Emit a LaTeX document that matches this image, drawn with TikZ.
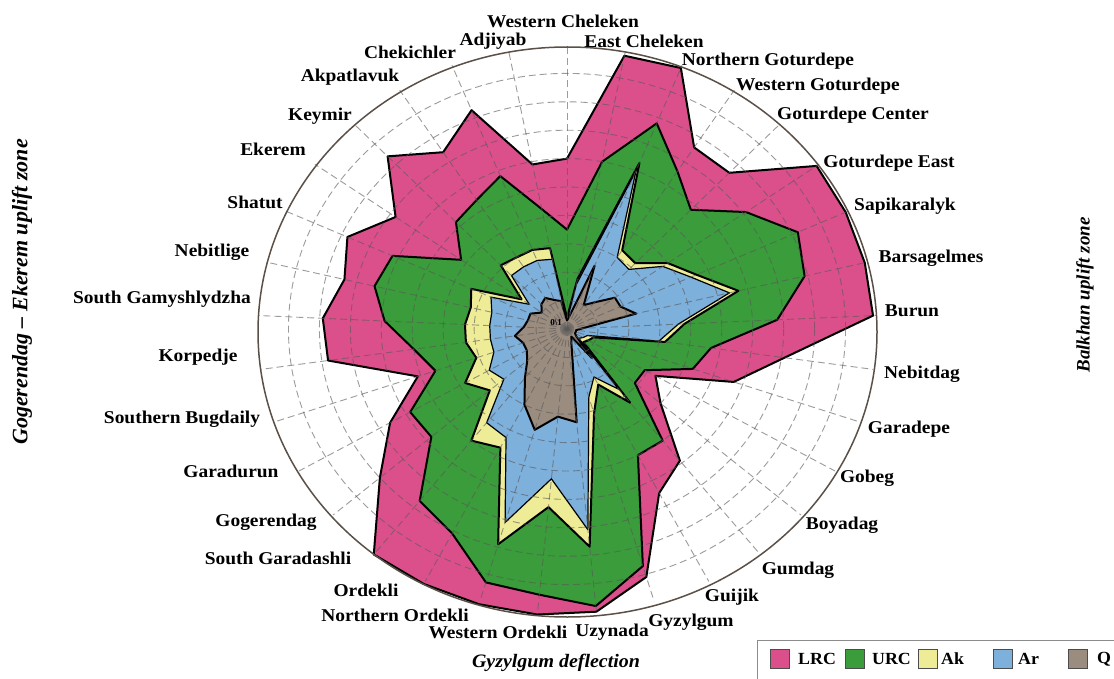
\documentclass[tikz,border=0pt]{standalone}
\usepackage{fontspec}
\setmainfont{Liberation Serif}
\begin{document}
\begin{tikzpicture}[x=1pt,y=-1pt,
  lab/.style={font=\fontsize{18}{20}\selectfont\bfseries, xscale=1.08, inner sep=0pt},
  side/.style={font=\fontsize{19}{22}\selectfont\bfseries\itshape, inner sep=0pt},
  poly/.style={draw=black, line width=2pt, line join=round},
  gridline/.style={draw=black!65, line width=0.9pt, dash pattern=on 7pt off 4pt, opacity=0.6},
  legbox/.style={draw=black!70, line width=0.6pt, minimum width=19pt, minimum height=19pt, inner sep=0pt},
  legtxt/.style={font=\fontsize{17}{20}\selectfont\bfseries, xscale=1.05, inner sep=0pt, anchor=west}]
\definecolor{cLRC}{RGB}{219,80,138}
\definecolor{cURC}{RGB}{58,156,58}
\definecolor{cAk}{RGB}{238,236,150}
\definecolor{cAr}{RGB}{126,176,220}
\definecolor{cQ}{RGB}{155,140,128}
\definecolor{cCirc}{RGB}{90,80,72}
\useasboundingbox (0,0) rectangle (1114,679);
\fill[white] (0,0) rectangle (1114,679);
\def\cx{567}\def\cy{329}\def\rx{309.5}\def\ry{284}
% data coordinates
\foreach \v [count=\i from 0] in {0.60,0.98,0.99,0.76,0.76,0.99,0.99,0.99,0.99,0.71,0.57,0.33,0.40,0.59,0.65,0.91,1.0,1.01,1.01,1.01,1.01,0.80,0.66,0.51,0.78,0.79,0.74,0.78,0.68,0.84,0.74,0.83,0.59}
  {\coordinate (L\i) at ({\cx+\rx*\v*cos(90-\i*360/33)},{\cy-\ry*\v*sin(90-\i*360/33)});}
\foreach \v [count=\i from 0] in {0.35,0.60,0.78,0.66,0.58,0.71,0.82,0.79,0.68,0.47,0.43,0.29,0.29,0.50,0.50,0.87,0.98,0.94,0.93,0.81,0.77,0.58,0.585,0.45,0.50,0.59,0.64,0.62,0.42,0.52,0.54,0.58,0.43}
  {\coordinate (U\i) at ({\cx+\rx*\v*cos(90-\i*360/33)},{\cy-\ry*\v*sin(90-\i*360/33)});}
\foreach \v [count=\i from 0] in {0.04,0.18,0.63,0.33,0.32,0.40,0.46,0.57,0.38,0.32,0.09,0.08,0.07,0.33,0.22,0.31,0.77,0.63,0.79,0.47,0.50,0.33,0.38,0.31,0.33,0.33,0.32,0.34,0.18,0.31,0.30,0.30,0.29}
  {\coordinate (K\i) at ({\cx+\rx*\v*cos(90-\i*360/33)},{\cy-\ry*\v*sin(90-\i*360/33)});}
\foreach \v [count=\i from 0] in {0.03,0.16,0.60,0.30,0.29,0.38,0.44,0.54,0.36,0.30,0.07,0.06,0.05,0.27,0.19,0.25,0.71,0.53,0.71,0.43,0.42,0.27,0.29,0.25,0.25,0.25,0.25,0.27,0.15,0.26,0.26,0.26,0.25}
  {\coordinate (R\i) at ({\cx+\rx*\v*cos(90-\i*360/33)},{\cy-\ry*\v*sin(90-\i*360/33)});}
\foreach \v [count=\i from 0] in {0.03,0.05,0.24,0.10,0.13,0.19,0.19,0.23,0.05,0.03,0.03,0.03,0.04,0.13,0.03,0.05,0.33,0.31,0.37,0.30,0.22,0.17,0.15,0.15,0.17,0.14,0.13,0.13,0.10,0.12,0.13,0.11,0.10}
  {\coordinate (Q\i) at ({\cx+\rx*\v*cos(90-\i*360/33)},{\cy-\ry*\v*sin(90-\i*360/33)});}
% polygons
\filldraw[poly, fill=cLRC] (L0) \foreach \i in {1,...,32}{ -- (L\i)} -- cycle;
\filldraw[poly, fill=cURC] (U0) \foreach \i in {1,...,32}{ -- (U\i)} -- cycle;
\filldraw[poly, fill=cAk] (K0) \foreach \i in {1,...,32}{ -- (K\i)} -- cycle;
\filldraw[poly, fill=cAr, line width=1.2pt] (R0) \foreach \i in {1,...,32}{ -- (R\i)} -- cycle;
\filldraw[poly, fill=cQ] (Q0) \foreach \i in {1,...,32}{ -- (Q\i)} -- cycle;
% grid
\foreach \r in {0.1,0.2,0.3,0.4,0.5,0.6,0.7,0.8,0.9}
  {\draw[gridline] (\cx,\cy) ellipse [x radius=\rx*\r, y radius=\ry*\r];}
\foreach \i in {0,...,32}
  {\draw[gridline] (\cx,\cy) -- ({\cx+\rx*cos(90-\i*360/33)},{\cy-\ry*sin(90-\i*360/33)});}
% outer circle
\draw[cCirc, line width=1.5pt] (567.5,332) ellipse [x radius=309.5, y radius=285];
\node[font=\fontsize{9}{9}\selectfont\bfseries, inner sep=0pt] (z0) at (556,323) {0\textbackslash 1};
% labels
\node[lab] (n0) at (563,21) {Western Cheleken};
\node[lab] (n32) at (493,41) {Adjiyab};
\node[lab] (n1) at (644,41) {East Cheleken};
\node[lab] (n31) at (410,52) {Chekichler};
\node[lab] (n2) at (768,61) {Northern Goturdepe};
\node[lab] (n30) at (350,77) {Akpatlavuk};
\node[lab] (n3) at (818,86) {Western Goturdepe};
\node[lab] (n29) at (320,116) {Keymir};
\node[lab] (n4) at (853,115) {Goturdepe Center};
\node[lab] (n28) at (273,149) {Ekerem};
\node[lab] (n5) at (889,163) {Goturdepe East};
\node[lab] (n27) at (255,202) {Shatut};
\node[lab] (n6) at (905,206) {Sapikaralyk};
\node[lab] (n26) at (212,252) {Nebitlige};
\node[lab] (n7) at (931,258) {Barsagelmes};
\node[lab] (n25) at (162,299) {South Gamyshlydzha};
\node[lab] (n8) at (912,311) {Burun};
\node[lab] (n24) at (198,357) {Korpedje};
\node[lab] (n9) at (922,374) {Nebitdag};
\node[lab] (n23) at (182,419) {Southern Bugdaily};
\node[lab] (n10) at (909,429) {Garadepe};
\node[lab] (n22) at (231,471) {Garadurun};
\node[lab] (n11) at (867,478) {Gobeg};
\node[lab] (n21) at (266,522) {Gogerendag};
\node[lab] (n12) at (842,525) {Boyadag};
\node[lab] (n20) at (278,558) {South Garadashli};
\node[lab] (n13) at (798,570) {Gumdag};
\node[lab] (n19) at (366,590) {Ordekli};
\node[lab] (n14) at (732,597) {Guijik};
\node[lab] (n18) at (395,615) {Northern Ordekli};
\node[lab] (n15) at (691,622) {Gyzylgum};
\node[lab] (n17) at (498,632) {Western Ordekli};
\node[lab] (n16) at (612,632) {Uzynada};
% zone labels
\node[side, font=\fontsize{22}{24}\selectfont\bfseries\itshape, rotate=90] (zl) at (22,292) {Gogerendag – Ekerem uplift zone};
\node[side, rotate=90] (zr) at (1085,295) {Balkhan uplift zone};
\node[side, xscale=1.05] (zb) at (556,663) {Gyzylgum deflection};
% legend
\draw[black!45, line width=1pt] (757,640) rectangle (1130,700);
\node[legbox, fill=cLRC] (b1) at (780,659) {};
\node[legtxt] (t1) at (798,659) {LRC};
\node[legbox, fill=cURC] (b2) at (855,659) {};
\node[legtxt] (t2) at (872,659) {URC};
\node[legbox, fill=cAk] (b3) at (928,659) {};
\node[legtxt] (t3) at (941,659) {Ak};
\node[legbox, fill=cAr] (b4) at (1003,659) {};
\node[legtxt] (t4) at (1018,659) {Ar};
\node[legbox, fill=cQ] (b5) at (1078,659) {};
\node[legtxt] (t5) at (1097,659) {Q};
\end{tikzpicture}
\end{document}
